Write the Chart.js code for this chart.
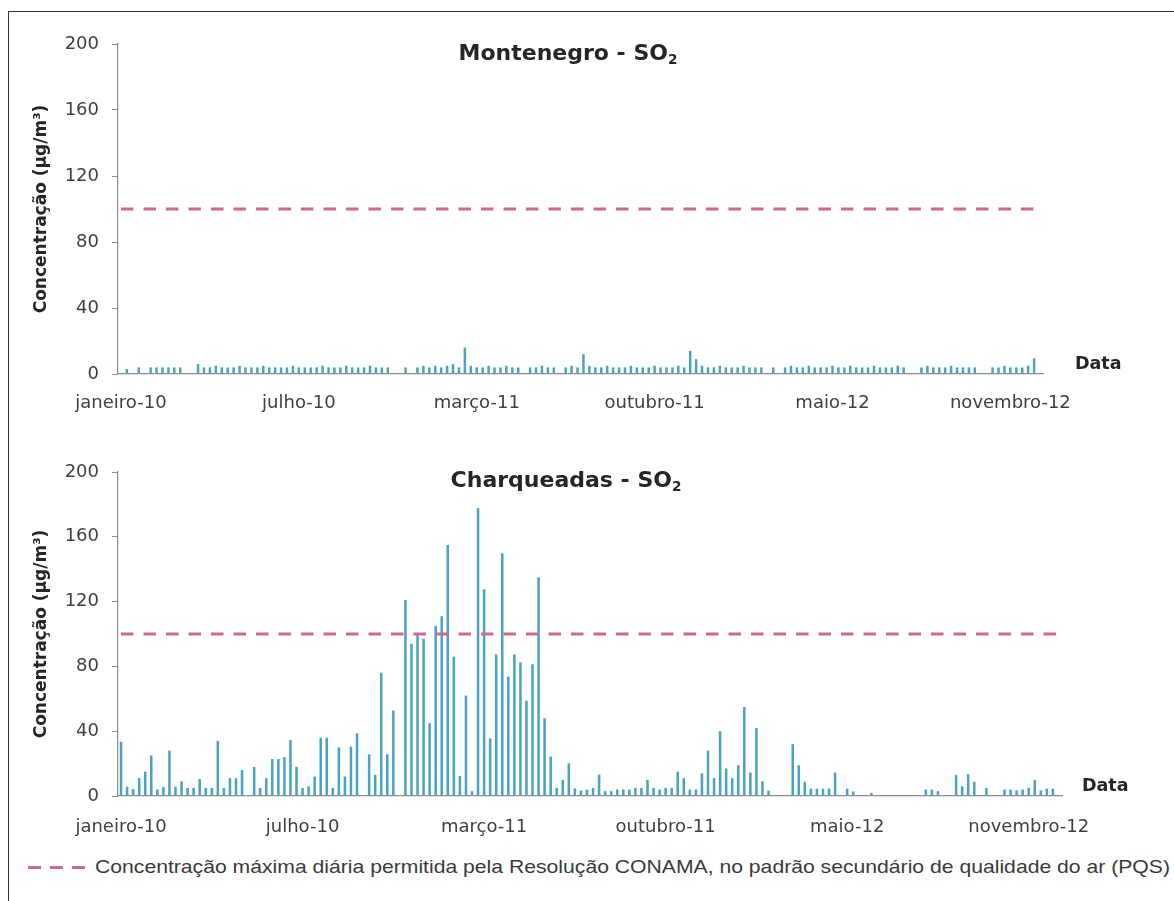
<!DOCTYPE html>
<html>
<head>
<meta charset="utf-8">
<script src="https://cdn.jsdelivr.net/npm/chart.js@4.4.1/dist/chart.umd.min.js"></script>
<style>
  html, body { margin: 0; padding: 0; background: #fff; }
  #fig { position: relative; width: 1174px; height: 901px; overflow: hidden; background: #fff; font-family: 'DejaVu Sans', sans-serif; }
  #frame { position: absolute; left: 8px; top: 11px; width: 1200px; height: 1000px; border-top: 1.5px solid #333; border-left: 1.5px solid #333; }
  .chartbox { position: absolute; left: 0; width: 1174px; }
  .ttl { position: absolute; font-weight: 700; font-size: 22px; line-height: 22px; color: #262626; white-space: nowrap; transform: translateX(-50%); }
  .ttl sub { font-size: 0.62em; line-height: 0; vertical-align: -0.3em; }
  .dlab { position: absolute; font-weight: 700; font-size: 17.5px; line-height: 18px; color: #262626; }
  #legend { position: absolute; left: 28px; top: 856px; height: 22px; white-space: nowrap; }
  #legdash { position: absolute; left: 0; top: 10px; width: 58px; height: 3px;
             background: repeating-linear-gradient(90deg, #cc6a8e 0 13px, transparent 13px 22px); }
  #legtext { position: absolute; left: 67px; top: 0; font-family: 'Liberation Sans Narrow', 'Liberation Sans', sans-serif; font-size: 19px; line-height: 22px; color: #3a3a3a; transform-origin: 0 50%; }
</style>
</head>
<body>
<div id="fig">
  <div id="frame"></div>
  <div class="chartbox" style="top:0;height:440px;"><canvas id="c1"></canvas></div>
  <div class="chartbox" style="top:424px;height:420px;"><canvas id="c2"></canvas></div>
  <div class="ttl" style="left:568px;top:42px;">Montenegro - SO<sub>2</sub></div>
  <div class="ttl" style="left:566px;top:469px;">Charqueadas - SO<sub>2</sub></div>
  <div class="dlab" style="left:1075px;top:354px;">Data</div>
  <div class="dlab" style="left:1082px;top:776px;">Data</div>
  <div id="legend"><div id="legdash"></div><span id="legtext">Concentração máxima diária permitida pela Resolução CONAMA, no padrão secundário de qualidade do ar (PQS)</span></div>
</div>
<script>
// ---- data ----
const tickLabels = ['janeiro-10', 'julho-10', 'março-11', 'outubro-11', 'maio-12', 'novembro-12'];
const tickEvery = 30;            // one date label every 30 samples
const pqsLimit = 100;            // CONAMA secondary standard (µg/m³)

const montenegroSO2 = [
  null, 3, null, 4, null, 4, 4, 4, 4, 4,
  4, null, null, 6, 4, 4, 5, 4, 4, 4,
  5, 4, 4, 4, 5, 4, 4, 4, 4, 5,
  4, 4, 4, 4, 5, 4, 4, 4, 5, 4,
  4, 4, 5, 4, 4, 4, null, null, 4, null,
  4, 5, 4, 5, 4, 5, 6, 4, 16, 5,
  4, 4, 5, 4, 4, 5, 4, 4, null, 4,
  4, 5, 4, 4, null, 4, 5, 4, 12, 5,
  4, 4, 5, 4, 4, 4, 5, 4, 4, 4,
  5, 4, 4, 4, 5, 4, 14, 9, 5, 4,
  4, 5, 4, 4, 4, 5, 4, 4, 4, null,
  4, null, 4, 5, 4, 4, 5, 4, 4, 4,
  5, 4, 4, 5, 4, 4, 4, 5, 4, 4,
  4, 5, 4, null, null, 4, 5, 4, 4, 4,
  5, 4, 4, 4, 4, null, null, 4, 4, 5,
  4, 4, 4, 5, 9.5, null
];

const charqueadasSO2 = [
  33.5, 5.7, 4.3, 11, 15, 25, 4, 5.5, 28, 5.7,
  9, 5, 5, 10.5, 5, 5, 34, 5, 11, 11,
  16, null, 18, 5, 11, 22.8, 22.8, 24, 34.5, 18,
  5, 6, 12, 36, 36, 5, 30, 12, 30.5, 38.7,
  null, 25.7, 13, 76, 25.7, 52.7, null, 121, 94, 100,
  97, 45, 105, 111, 155, 86, 12.3, 62, 3, 177.6,
  127.6, 35.6, 87.4, 149.8, 73.7, 87.4, 82.5, 58.8, 81.3, 135,
  48, 24.3, 5, 9.9, 20.2, 4.7, 3.3, 4, 5, 13.2,
  3, 3, 4, 4, 4, 5, 5, 10, 5, 4,
  5, 5, 15, 11, 4, 4, 14, 28, 11, 40,
  17, 11, 19, 55, 14.4, 42, 9, 3.3, null, null,
  null, 32, 19, 8.8, 4.5, 4.5, 4.5, 4.5, 14.5, null,
  4.5, 2.8, null, null, 2, null, null, null, null, null,
  null, null, null, 4, 4, 3, null, null, 13, 6,
  13.4, 8.8, null, 5, null, null, 4, 4, 3.5, 4,
  5, 9.8, 3.5, 4.5, 4.5, null
];

// ---- chart construction ----
const categories = charqueadasSO2.map((_, i) => 'amostra ' + (i + 1));
const barColor = '#4aa3c3';
const limitColor = '#cc6a8e';
const axisColor = '#8c8c8c';
const tickColor = '#404040';
const fontFam = "'DejaVu Sans', sans-serif";

function makeChart(id, values, pad, xLabelPad) {
  const ctx = document.getElementById(id);
  return new Chart(ctx, {
    data: {
      labels: categories,
      datasets: [
        {
          type: 'line',
          label: 'PQS',
          data: categories.map(() => pqsLimit),
          borderColor: limitColor,
          borderWidth: 3,
          borderDash: [12.5, 10],
          pointRadius: 0,
          fill: false,
          order: 0
        },
        {
          type: 'bar',
          label: 'SO2',
          data: values,
          backgroundColor: barColor,
          borderWidth: 0,
          barPercentage: 0.42,
          categoryPercentage: 1.0,
          order: 1
        }
      ]
    },
    options: {
      responsive: true,
      maintainAspectRatio: false,
      animation: false,
      events: [],
      layout: { padding: pad },
      plugins: { legend: { display: false }, tooltip: { enabled: false }, title: { display: false } },
      scales: {
        x: {
          type: 'category',
          offset: true,
          grid: { display: false, drawTicks: false },
          border: { display: true, color: axisColor, width: 1.2 },
          ticks: {
            autoSkip: false,
            maxRotation: 0,
            padding: xLabelPad,
            color: tickColor,
            font: { family: fontFam, size: 18 },
            callback: (v, i) => (i % tickEvery === 0 ? tickLabels[i / tickEvery] : null)
          },
          afterFit: s => { s.height = 40; }
        },
        y: {
          min: 0,
          max: 200,
          ticks: { stepSize: 40, padding: 13, color: tickColor, font: { family: fontFam, size: 18 } },
          grid: { drawOnChartArea: false, drawTicks: true, tickLength: 6, color: axisColor },
          border: { display: true, color: axisColor, width: 1.2 },
          title: {
            display: true,
            text: 'Concentração (µg/m³)',
            color: '#262626',
            font: { family: fontFam, size: 17, weight: 'bold' },
            padding: { top: 11, bottom: 0 }
          },
          afterFit: s => { s.width = 98; }
        }
      }
    }
  });
}

makeChart('c1', montenegroSO2, { left: 20, right: 131, top: 44, bottom: 26 }, 19);
makeChart('c2', charqueadasSO2, { left: 20, right: 112, top: 48, bottom: 8 }, 21);

// fit legend text to the reference width
(function () {
  const t = document.getElementById('legtext');
  const w = t.getBoundingClientRect().width;
  const target = 1075;
  if (w > 0) t.style.transform = 'scaleX(' + (target / w).toFixed(4) + ')';
})();
</script>
</body>
</html>
